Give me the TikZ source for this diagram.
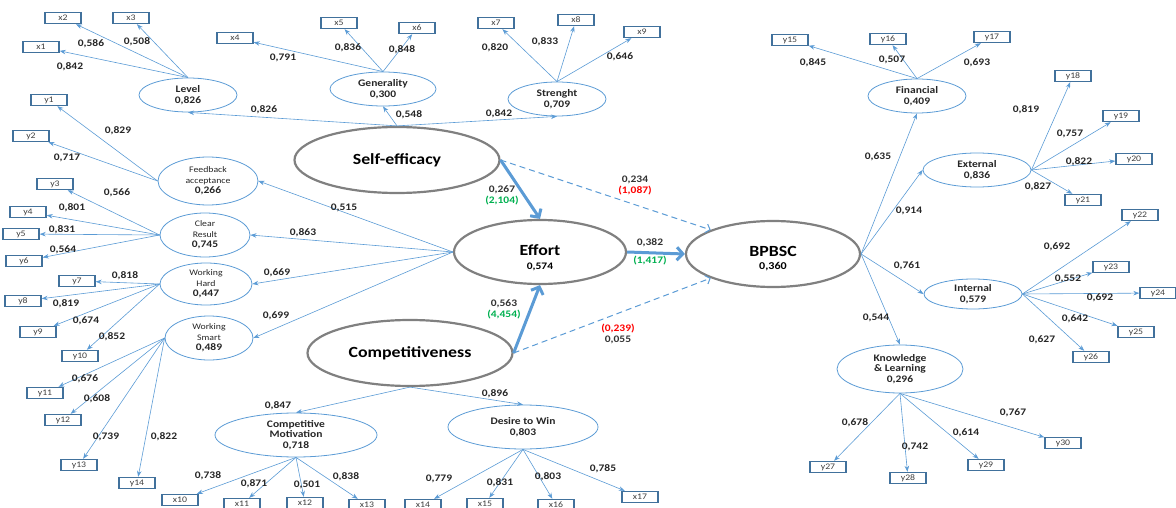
\documentclass[tikz,border=0pt]{standalone}
\usepackage{fontspec}
\setmainfont{Carlito}[FakeStretch=1.15]
\usepackage{xcolor}
\usepackage{tikz}
\usetikzlibrary{positioning,arrows.meta,shapes.geometric}

\definecolor{lineblue}{RGB}{91,155,213}
\definecolor{boxblue}{RGB}{65,113,156}
\definecolor{sigg}{RGB}{0,176,80}
\definecolor{sigr}{RGB}{255,0,0}
\newcommand{\nm}[1]{{\fontsize{8.5}{9}\selectfont\mdseries #1}}

\begin{document}
\begin{tikzpicture}[x=1pt,y=-1pt]
        \tikzstyle{ind}=[draw=boxblue,line width=1.4pt,fill=white,minimum width=36pt,minimum height=11pt,inner sep=0pt,font=\fontsize{8.5}{8.5}\selectfont,text=black!75]
        \tikzstyle{fo}=[draw=lineblue,line width=0.8pt,ellipse,inner sep=0pt,align=center,font=\fontsize{10}{10.5}\selectfont\bfseries,text=black!85]
        \tikzstyle{so}=[draw=black!50,line width=2.2pt,ellipse,inner sep=0pt,align=center,font=\fontsize{15.5}{16}\selectfont\bfseries]
        \tikzstyle{sotext}=[inner sep=0pt,align=center,font=\fontsize{15.5}{16}\selectfont\bfseries]
        \tikzstyle{load}=[lineblue,line width=0.6pt,-{Stealth[length=6pt,width=4.5pt]}]
        \tikzstyle{struct}=[lineblue,line width=3pt,-{Straight Barb[length=6pt,width=13pt]}]
        \tikzstyle{direct}=[lineblue,line width=1pt,dash pattern=on 6pt off 4pt,-{Straight Barb[length=4pt,width=9pt]}]
        \tikzstyle{coef}=[font=\fontsize{10}{10}\selectfont\bfseries,text=black!85,inner sep=0pt]
        \tikzstyle{pc}=[font=\fontsize{10}{11}\selectfont\bfseries,text=black!80,inner sep=0pt,align=center]
        \useasboundingbox (0,0) rectangle (1176,508);

        % latent variables
        \draw (397,160) node[so,minimum width=205pt,minimum height=66pt] (se) {Self-efficacy};
        \draw (540,252) node[so,minimum width=172pt,minimum height=64pt] (eff) {};
        \draw (540,258) node[sotext] (efft) {Effort\\[-2pt]{\fontsize{10}{10}\selectfont 0,574}};
        \draw (410,353) node[so,minimum width=205pt,minimum height=66pt] (comp) {Competitiveness};
        \draw (773,254) node[so,minimum width=174pt,minimum height=66pt] (bp) {};
        \draw (773,259) node[sotext] (bpt) {BPBSC\\[-3pt]{\fontsize{10.5}{10}\selectfont 0,360}};

        \draw (188,95) node[fo,minimum width=98pt,minimum height=34pt] (lev) {Level\\0,826};
        \draw (383,89) node[fo,minimum width=106pt,minimum height=34pt] (gen) {Generality\\0,300};
        \draw (557,99) node[fo,minimum width=98pt,minimum height=34pt] (str) {Strenght\\0,709};
        \draw (208,181) node[fo,minimum width=100pt,minimum height=48pt] (fb) {\nm{Feedback}\\\nm{acceptance}\\0,266};
        \draw (205,235) node[fo,minimum width=90pt,minimum height=44pt] (cr) {\nm{Clear}\\\nm{Result}\\0,745};
        \draw (206,284) node[fo,minimum width=92pt,minimum height=42pt] (wh) {\nm{Working}\\\nm{Hard}\\0,447};
        \draw (209,338) node[fo,minimum width=88pt,minimum height=44pt] (ws) {\nm{Working}\\\nm{Smart}\\0,489};
        \draw (296,435) node[fo,minimum width=162pt,minimum height=44pt] (cm) {Competitive\\Motivation\\0,718};
        \draw (523,427) node[fo,minimum width=150pt,minimum height=44pt] (dw) {Desire to Win\\0,803};
        \draw (917,96) node[fo,minimum width=98pt,minimum height=34pt] (fin) {Financial\\0,409};
        \draw (977,170) node[fo,minimum width=108pt,minimum height=34pt] (ext) {External\\0,836};
        \draw (973,294) node[fo,minimum width=98pt,minimum height=30pt] (int) {Internal\\0,579};
        \draw (900,369) node[fo,minimum width=126pt,minimum height=48pt] (kl) {Knowledge\\\& Learning\\0,296};

        % indicators
        \draw (41,47) node[ind] (x1) {x1};
        \draw (63,18) node[ind] (x2) {x2};
        \draw (131,18) node[ind] (x3) {x3};
        \draw (235,38) node[ind] (x4) {x4};
        \draw (339,23) node[ind] (x5) {x5};
        \draw (417,28) node[ind] (x6) {x6};
        \draw (496,23) node[ind] (x7) {x7};
        \draw (576,20) node[ind] (x8) {x8};
        \draw (642,32) node[ind] (x9) {x9};
        \draw (180,500) node[ind] (x10) {x10};
        \draw (242,504) node[ind] (x11) {x11};
        \draw (305,503) node[ind] (x12) {x12};
        \draw (367,505) node[ind] (x13) {x13};
        \draw (423,505) node[ind] (x14) {x14};
        \draw (485,504) node[ind] (x15) {x15};
        \draw (556,505) node[ind] (x16) {x16};
        \draw (640,497) node[ind] (x17) {x17};
        \draw (49,100) node[ind] (y1) {y1};
        \draw (31,136) node[ind] (y2) {y2};
        \draw (55,184) node[ind] (y3) {y3};
        \draw (28,212) node[ind] (y4) {y4};
        \draw (21,234) node[ind] (y5) {y5};
        \draw (24,261) node[ind] (y6) {y6};
        \draw (77,281) node[ind] (y7) {y7};
        \draw (23,301) node[ind] (y8) {y8};
        \draw (38,332) node[ind] (y9) {y9};
        \draw (80,356) node[ind] (y10) {y10};
        \draw (45,393) node[ind] (y11) {y11};
        \draw (63,420) node[ind] (y12) {y12};
        \draw (79,465) node[ind] (y13) {y13};
        \draw (137,483) node[ind] (y14) {y14};
        \draw (790,40) node[ind] (y15) {y15};
        \draw (888,39) node[ind] (y16) {y16};
        \draw (992,37) node[ind] (y17) {y17};
        \draw (1073,76) node[ind] (y18) {y18};
        \draw (1121,116) node[ind] (y19) {y19};
        \draw (1134,159) node[ind] (y20) {y20};
        \draw (1083,200) node[ind] (y21) {y21};
        \draw (1140,215) node[ind] (y22) {y22};
        \draw (1111,267) node[ind] (y23) {y23};
        \draw (1158,293) node[ind] (y24) {y24};
        \draw (1136,332) node[ind] (y25) {y25};
        \draw (1091,357) node[ind] (y26) {y26};
        \draw (828,467) node[ind] (y27) {y27};
        \draw (908,478) node[ind] (y28) {y28};
        \draw (986,465) node[ind] (y29) {y29};
        \draw (1063,443) node[ind] (y30) {y30};

        % loadings
        \draw[load] (lev.north) -- (x1);
        \draw[load] (lev.north) -- (x2);
        \draw[load] (lev.north) -- (x3);
        \draw[load] (gen.north) -- (x4);
        \draw[load] (gen.north) -- (x5);
        \draw[load] (gen.north) -- (x6);
        \draw[load] (str.north) -- (x7);
        \draw[load] (str.north) -- (x8);
        \draw[load] (str.north) -- (x9);
        \draw[load] (fb.west) -- (y1);
        \draw[load] (fb.west) -- (y2);
        \draw[load] (cr.west) -- (y3);
        \draw[load] (cr.west) -- (y4);
        \draw[load] (cr.west) -- (y5);
        \draw[load] (cr.west) -- (y6);
        \draw[load] (wh.west) -- (y7);
        \draw[load] (wh.west) -- (y8);
        \draw[load] (wh.west) -- (y9);
        \draw[load] (wh.west) -- (y10);
        \draw[load] (ws.west) -- (y11);
        \draw[load] (ws.west) -- (y12);
        \draw[load] (ws.west) -- (y13);
        \draw[load] (ws.west) -- (y14);
        \draw[load] (cm.south) -- (x10);
        \draw[load] (cm.south) -- (x11);
        \draw[load] (cm.south) -- (x12);
        \draw[load] (cm.south) -- (x13);
        \draw[load] (dw.south) -- (x14);
        \draw[load] (dw.south) -- (x15);
        \draw[load] (dw.south) -- (x16);
        \draw[load] (dw.south) -- (x17);
        \draw[load] (fin.north) -- (y15);
        \draw[load] (fin.north) -- (y16);
        \draw[load] (fin.north) -- (y17);
        \draw[load] (ext.east) -- (y18);
        \draw[load] (ext.east) -- (y19);
        \draw[load] (ext.east) -- (y20);
        \draw[load] (ext.east) -- (y21);
        \draw[load] (int.east) -- (y22);
        \draw[load] (int.east) -- (y23);
        \draw[load] (int.east) -- (y24);
        \draw[load] (int.east) -- (y25);
        \draw[load] (int.east) -- (y26);
        \draw[load] (kl.south) -- (y27);
        \draw[load] (kl.south) -- (y28);
        \draw[load] (kl.south) -- (y29);
        \draw[load] (kl.south) -- (y30);

        % second order
        \draw[load] (se.north) -- (lev.south);
        \draw[load] (se.north) -- (gen.south);
        \draw[load] (se.north) -- (str.south);
        \draw[load] (eff.west) -- (fb.east);
        \draw[load] (eff.west) -- (cr.east);
        \draw[load] (eff.west) -- (wh.east);
        \draw[load] (eff.west) -- (ws.east);
        \draw[load] (comp.south) -- (cm.north);
        \draw[load] (comp.south) -- (dw.north);
        \draw[load] (bp.east) -- (fin.south);
        \draw[load] (bp.east) -- (ext.west);
        \draw[load] (bp.east) -- (int.west);
        \draw[load] (bp.east) -- (kl.north);

        % structural paths
        \draw[struct] (se.east) -- (eff.north);
        \draw[struct] (comp.east) -- (eff.south);
        \draw[struct] (eff.east) -- (bp.west);
        \draw[direct] (se.east) -- (bp.north west);
        \draw[direct] (comp.east) -- (bp.south west);

        % loading values
        \draw (70,67) node[coef] (c1) {0,842};
        \draw (91,44) node[coef] (c2) {0,586};
        \draw (137,42) node[coef] (c3) {0,508};
        \draw (283,58) node[coef] (c4) {0,791};
        \draw (348,48) node[coef] (c5) {0,836};
        \draw (402,50) node[coef] (c6) {0,848};
        \draw (495,48) node[coef] (c7) {0,820};
        \draw (545,42) node[coef] (c8) {0,833};
        \draw (620,57) node[coef] (c9) {0,646};
        \draw (264,110) node[coef] (c10) {0,826};
        \draw (409,115) node[coef] (c11) {0,548};
        \draw (499,114) node[coef] (c12) {0,842};
        \draw (118,131) node[coef] (c13) {0,829};
        \draw (67,158) node[coef] (c14) {0,717};
        \draw (117,193) node[coef] (c15) {0,566};
        \draw (72,208) node[coef] (c16) {0,801};
        \draw (62,230) node[coef] (c17) {0,831};
        \draw (63,250) node[coef] (c18) {0,564};
        \draw (125,276) node[coef] (c19) {0,818};
        \draw (66,304) node[coef] (c20) {0,819};
        \draw (86,321) node[coef] (c21) {0,674};
        \draw (112,337) node[coef] (c22) {0,852};
        \draw (85,379) node[coef] (c23) {0,676};
        \draw (97,399) node[coef] (c24) {0,608};
        \draw (106,437) node[coef] (c25) {0,739};
        \draw (164,437) node[coef] (c26) {0,822};
        \draw (344,208) node[coef] (c27) {0,515};
        \draw (303,233) node[coef] (c28) {0,863};
        \draw (277,273) node[coef] (c29) {0,669};
        \draw (276,316) node[coef] (c30) {0,699};
        \draw (278,406) node[coef] (c31) {0,847};
        \draw (495,394) node[coef] (c32) {0,896};
        \draw (208,476) node[coef] (c33) {0,738};
        \draw (254,484) node[coef] (c34) {0,871};
        \draw (307,485) node[coef] (c35) {0,501};
        \draw (346,477) node[coef] (c36) {0,838};
        \draw (439,479) node[coef] (c37) {0,779};
        \draw (500,483) node[coef] (c38) {0,831};
        \draw (548,477) node[coef] (c39) {0,803};
        \draw (603,469) node[coef] (c40) {0,785};
        \draw (813,63) node[coef] (c41) {0,845};
        \draw (892,60) node[coef] (c42) {0,507};
        \draw (977,63) node[coef] (c43) {0,693};
        \draw (1026,110) node[coef] (c44) {0,819};
        \draw (1070,134) node[coef] (c45) {0,757};
        \draw (1079,162) node[coef] (c46) {0,822};
        \draw (1038,187) node[coef] (c47) {0,827};
        \draw (878,157) node[coef] (c48) {0,635};
        \draw (909,211) node[coef] (c49) {0,914};
        \draw (907,266) node[coef] (c50) {0,761};
        \draw (876,318) node[coef] (c51) {0,544};
        \draw (1057,247) node[coef] (c52) {0,692};
        \draw (1068,279) node[coef] (c53) {0,552};
        \draw (1100,298) node[coef] (c54) {0,692};
        \draw (1075,319) node[coef] (c55) {0,642};
        \draw (1042,340) node[coef] (c56) {0,627};
        \draw (855,423) node[coef] (c57) {0,678};
        \draw (915,447) node[coef] (c58) {0,742};
        \draw (966,433) node[coef] (c59) {0,614};
        \draw (1013,413) node[coef] (c60) {0,767};

        % path coefficients
        \draw (502,195) node[pc] (p1) {0,267\\\textcolor{sigg}{(2,104)}};
        \draw (635,185) node[pc] (p2) {0,234\\\textcolor{sigr}{(1,087)}};
        \draw (650,243) node[pc] (p3) {0,382};
        \draw (650,261) node[pc] (p3b) {\textcolor{sigg}{(1,417)}};
        \draw (504,309) node[pc] (p4) {0,563\\\textcolor{sigg}{(4,454)}};
        \draw (618,334) node[pc] (p5) {\textcolor{sigr}{(0,239)}\\0,055};
\end{tikzpicture}
\end{document}
